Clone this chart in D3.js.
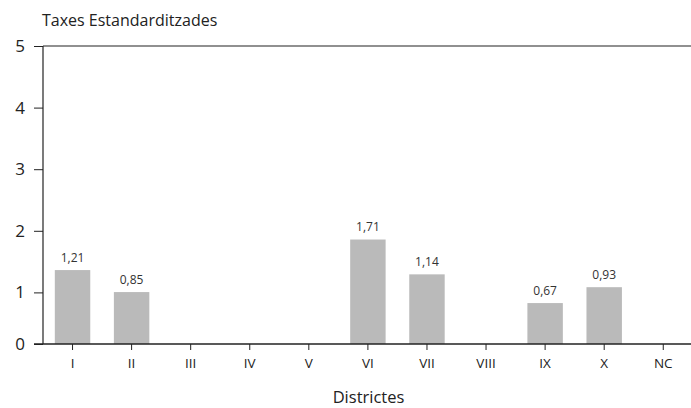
<!DOCTYPE html>
<html><head><meta charset="utf-8">
<script src="https://cdn.jsdelivr.net/npm/d3@7/dist/d3.min.js"></script>
<style>
body{margin:0;background:#fff;}
svg{display:block;font-family:"Open Sans",sans-serif;}
</style></head>
<body><svg id="c" width="691" height="408"></svg>
<script>
const categories = ["I","II","III","IV","V","VI","VII","VIII","IX","X","NC"];
const values = [1.21,0.85,null,null,null,1.71,1.14,null,0.67,0.93,null];
const yTicks = [1,2,3,4,5];
const yTitle = "Taxes Estandarditzades";
const xTitle = "Districtes";

(function(){
const svg = d3.select("#c");
const mLeft = 43, mRight = 692.8, mBottom = 344, mTop = 46;

const x = d3.scaleBand().domain(categories).range([mLeft, mRight]).paddingInner(0.4).paddingOuter(0.2);
const yBar = d3.scaleLinear().domain([0,5]).range([mBottom, mBottom - 5*61.1]);
const yAx = d3.scaleLinear().domain([0,5]).range([mBottom + 10, mTop]);

svg.append("line").attr("x1", mLeft).attr("x2", 691).attr("y1", mTop).attr("y2", mTop)
  .attr("stroke","#222").attr("stroke-width",1.2);

const data = categories.map((c,i)=>({c, v: values[i]}));
svg.append("g").selectAll("rect").data(data.filter(d=>d.v!=null)).join("rect")
  .attr("x", d=>x(d.c)).attr("width", x.bandwidth())
  .attr("y", d=>yBar(d.v)).attr("height", d=>yBar(0)-yBar(d.v))
  .attr("fill","#bababa");

svg.append("g").selectAll("text").data(data.filter(d=>d.v!=null)).join("text")
  .attr("x", d=>x(d.c)+x.bandwidth()/2).attr("y", d=>yBar(d.v)-8.5)
  .attr("text-anchor","middle").attr("font-size",12).attr("fill","#333")
  .text(d=>d3.format(".2f")(d.v).replace(".",","));

const gy = svg.append("g").attr("transform",`translate(${mLeft},0)`);
gy.call(d3.axisLeft(yAx).tickValues(yTicks).tickSize(9).tickPadding(9).tickFormat(d3.format("d")));
gy.append("g").call(d3.axisLeft(yBar).tickValues([0]).tickSize(9).tickPadding(9).tickFormat(d3.format("d")));
gy.selectAll(".domain").remove();
gy.append("line").attr("x1",0).attr("x2",0).attr("y1",mTop).attr("y2",mBottom).attr("stroke","#222").attr("stroke-width",1.2);
gy.selectAll("text").attr("font-size",17).attr("fill","#222").attr("font-family","Open Sans");
gy.selectAll(".tick line").attr("stroke","#222");

const gx = svg.append("g").attr("transform",`translate(0,${mBottom})`);
gx.call(d3.axisBottom(x).tickSize(6).tickPadding(8));
gx.select(".domain").remove();
gx.append("line").attr("x1",34).attr("x2",691).attr("y1",0).attr("y2",0).attr("stroke","#222").attr("stroke-width",1.5);
gx.selectAll("text").attr("font-size",13.5).attr("fill","#222").attr("font-family","Open Sans");
gx.selectAll(".tick line").attr("stroke","#222");

svg.append("text").attr("x",42).attr("y",26).attr("font-size",16).attr("fill","#222").text(yTitle);
svg.append("text").attr("x",(333+404)/2).attr("y",403).attr("text-anchor","middle").attr("font-size",16.5).attr("fill","#222").text(xTitle);
})();
</script></body></html>
